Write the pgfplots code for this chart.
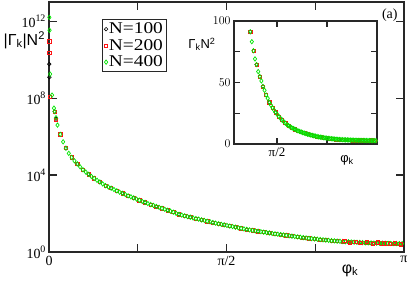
\documentclass[border=0pt]{standalone}
\usepackage{pgfplots}
\pgfplotsset{compat=1.18}
\usepackage{pgfplotstable}
\usepackage{fontspec}
\setmainfont{Liberation Serif}
\newfontfamily\sansf{Liberation Sans}
\newfontfamily\legfont[FakeStretch=1.18]{Liberation Serif}
\definecolor{cgreen}{RGB}{0,230,0}
\definecolor{cred}{RGB}{255,20,20}
\definecolor{axgray}{RGB}{40,40,40}
\newcommand{\pw}[1]{10\raisebox{0.42em}{\fontsize{10}{10}\selectfont #1}}
\newcommand{\lf}{\legfont\fontsize{16.5}{16.5}\selectfont}

\pgfplotstableread{
phi L
0.050 7.30
0.075 6.60
0.100 6.12
0.125 5.73
0.150 5.40
0.175 5.13
0.200 4.92
0.225 4.74
0.250 4.58
0.275 4.43
0.300 4.28
0.325 4.16
0.350 4.04
0.375 3.93
0.400 3.83
0.425 3.73
0.450 3.64
0.475 3.54
0.500 3.45
0.525 3.38
0.550 3.32
0.575 3.25
0.600 3.18
0.625 3.11
0.650 3.05
0.675 2.99
0.700 2.92
0.725 2.87
0.750 2.81
0.775 2.75
0.800 2.69
0.825 2.63
0.850 2.58
0.875 2.52
0.900 2.47
0.925 2.42
0.950 2.37
0.975 2.32
1.000 2.27
1.025 2.22
1.050 2.17
1.075 2.12
1.100 2.07
1.125 2.01
1.150 1.96
1.175 1.92
1.200 1.88
1.225 1.84
1.250 1.81
1.275 1.77
1.300 1.74
1.325 1.71
1.350 1.67
1.375 1.64
1.400 1.60
1.425 1.57
1.450 1.53
1.475 1.50
1.500 1.47
1.525 1.44
1.550 1.41
1.575 1.38
1.600 1.35
1.625 1.32
1.650 1.29
1.675 1.26
1.700 1.23
1.725 1.20
1.750 1.175
1.775 1.15
1.800 1.125
1.825 1.10
1.850 1.08
1.875 1.055
1.900 1.03
1.925 1.01
1.950 0.99
1.975 0.965
2.000 0.945
2.025 0.925
2.050 0.905
2.075 0.885
2.100 0.865
2.125 0.845
2.150 0.825
2.175 0.805
2.200 0.785
2.225 0.765
2.250 0.745
2.275 0.73
2.300 0.71
2.325 0.695
2.350 0.68
2.375 0.665
2.400 0.65
2.425 0.635
2.450 0.62
2.475 0.605
2.500 0.59
2.525 0.578
2.550 0.566
2.575 0.558
2.600 0.545
2.625 0.537
2.650 0.528
2.675 0.520
2.700 0.512
2.725 0.504
2.750 0.496
2.775 0.488
2.800 0.480
2.825 0.477
2.850 0.469
2.875 0.466
2.900 0.463
2.925 0.460
2.950 0.457
2.975 0.454
3.000 0.451
3.025 0.448
3.050 0.445
3.075 0.442
3.100 0.439
3.125 0.436
}\maindata

\pgfplotstableread{
phi L
0.003 12.20
0.005 11.53
0.010 9.25
0.027 8.16
0.044 7.48
0.062 6.98
}\greenstart

\pgfplotstableread{
phi L
0.002 10.96
0.003 10.34
0.009 8.05
0.060 6.86
}\redstart

\pgfplotstableread{
phi L
0.002 9.77
0.003 9.09
0.062 6.93
}\blackstart

\pgfplotstableread{
phi L
2.6125 0.57
2.6625 0.49
2.7125 0.55
2.7625 0.46
2.8125 0.52
2.8625 0.43
2.9125 0.50
2.9625 0.45
3.0125 0.41
3.0625 0.47
3.1125 0.40
}\rednoise

\begin{document}
\begin{tikzpicture}
\pgfplotsset{
  every axis/.append style={
    axis line style={line width=1.2bp, axgray},
    every tick/.style={line width=1.2bp, axgray},
    tick align=inside,
  },
  pN100/.style={only marks, mark=o, mark size=1.8bp, black, mark options={line width=0.6bp}},
  pN200/.style={only marks, mark=square, mark size=1.6bp, cred, mark options={line width=0.6bp}},
  pN400/.style={only marks, mark=diamond, mark size=2.2bp, cgreen, mark options={line width=0.7bp}},
}
\begin{axis}[
  scale only axis, width=355bp, height=250bp,
  ymode=log, xmin=0, xmax=3.14159, ymin=1, ymax=1e13,
  xtick={0,0.785398,1.570796,2.356194,3.141593},
  xticklabels={0,,π/2,,π},
  ytick={1,1e4,1e8,1e12},
  yticklabels={\pw{0},\pw{4},\pw{8},\pw{12}},
  yminorticks=false,
  major tick length=8bp,
  tick label style={font=\fontsize{14}{14}\selectfont},
  xticklabel style={yshift=-1bp},
  xlabel={\sansf φ\textsubscript{k}},
  every axis x label/.style={at={(axis description cs:0.848,-0.075)}, anchor=center, font=\fontsize{16}{16}\selectfont},
  ylabel={\sansf |Γ\textsubscript{k}|N\textsuperscript{2}},
  every axis y label/.style={at={(axis description cs:-0.008,0.848)}, anchor=east, inner sep=1bp, font=\fontsize{16}{16}\selectfont},
  legend style={at={(axis description cs:0.149,0.932)}, anchor=north west, draw=axgray, line width=0.8bp,
    inner xsep=2bp, inner ysep=1.5bp, row sep=0bp,
    nodes={inner sep=1bp, text height=12bp, text depth=2.5bp}},
  legend image code/.code={\draw[mark repeat=2,mark phase=2,#1] plot coordinates {(0bp,0bp) (9bp,0bp) (18bp,0bp)};},
  legend cell align=left,
]
\addplot[pN100, each nth point=4] table[x=phi, y expr=10^(\thisrow{L})] \maindata;
\addlegendentry{\lf N=100}
\addplot[pN200, each nth point=2] table[x=phi, y expr=10^(\thisrow{L})] \maindata;
\addlegendentry{\lf N=200}
\addplot[pN400] table[x=phi, y expr=10^(\thisrow{L})] \maindata;
\addlegendentry{\lf N=400}
\addplot[pN100, forget plot] table[x=phi, y expr=10^(\thisrow{L})] \blackstart;
\addplot[pN200, forget plot] table[x=phi, y expr=10^(\thisrow{L})] \redstart;
\addplot[pN200, forget plot] table[x=phi, y expr=10^(\thisrow{L})] \rednoise;
\addplot[pN400, forget plot] table[x=phi, y expr=10^(\thisrow{L})] \greenstart;
\node[font=\fontsize{14}{14}\selectfont] at (rel axis cs:0.96,0.948) {(a)};
\end{axis}

\begin{axis}[
  at={(185bp,108bp)}, anchor=south west,
  scale only axis, width=143bp, height=123bp,
  xmin=0.895, xmax=3.14159, ymin=0, ymax=100,
  xtick={1.570796,2.356194}, xticklabels={π/2,},
  ytick={0,50,100}, minor ytick={25,75},
  major tick length=6bp, minor tick length=6bp,
  tick label style={font=\fontsize{13}{13}\selectfont},
  axis background/.style={fill=white},
  xlabel={\sansf φ\textsubscript{k}},
  every axis x label/.style={at={(axis description cs:0.79,-0.13)}, anchor=center, font=\fontsize{13}{13}\selectfont},
  ylabel={\sansf Γ\textsubscript{k}N\textsuperscript{2}},
  every axis y label/.style={at={(axis description cs:-0.105,0.81)}, anchor=east, font=\fontsize{13}{13}\selectfont},
]
\addplot[pN100, each nth point=4, restrict y to domain=-10:120] table[x=phi, y expr=10^(\thisrow{L})] \maindata;
\addplot[pN200, each nth point=2, restrict y to domain=-10:120] table[x=phi, y expr=10^(\thisrow{L})] \maindata;
\addplot[pN200, restrict y to domain=-10:120] table[x=phi, y expr=10^(\thisrow{L})] \rednoise;
\addplot[pN400, restrict y to domain=-10:120] table[x=phi, y expr=10^(\thisrow{L})] \maindata;
\end{axis}
\pgfresetboundingbox
\path[use as bounding box] (-49bp,-31bp) rectangle (362bp,252bp);
\end{tikzpicture}
\end{document}
